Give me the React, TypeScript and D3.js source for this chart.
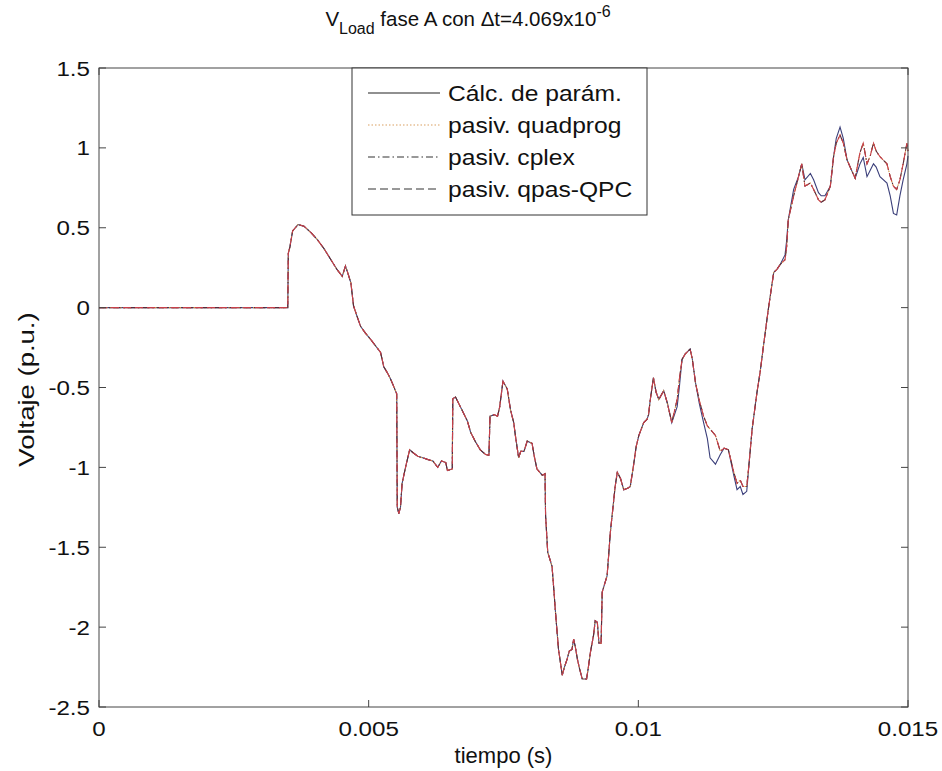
import React from 'react';
import * as d3 from 'd3';

const xTicks = [0, 0.005, 0.01, 0.015];
const xTickLabels = ['0', '0.005', '0.01', '0.015'];
const yTicks = [1.5, 1, 0.5, 0, -0.5, -1, -1.5, -2, -2.5];
const yTickLabels = ['1.5', '1', '0.5', '0', '-0.5', '-1', '-1.5', '-2', '-2.5'];
const seriesNames = ['Cálc. de parám.', 'pasiv. quadprog', 'pasiv. cplex', 'pasiv. qpas-QPC'];

const timeS = [
  0, 0.0035, 0.00351, 0.00354, 0.00359, 0.00369, 0.0038, 0.00393, 0.00405, 0.00417,
  0.0043, 0.00441, 0.00451, 0.00457, 0.00461, 0.00467, 0.00472, 0.00478, 0.00485, 0.00494,
  0.00504, 0.00513, 0.00522, 0.00528, 0.00535, 0.00541, 0.00546, 0.00552, 0.00553, 0.00556,
  0.00559, 0.00562, 0.00569, 0.00576, 0.00583, 0.00591, 0.006, 0.00609, 0.00619, 0.00628,
  0.00635, 0.00643, 0.00646, 0.00655, 0.00656, 0.00661, 0.0067, 0.00683, 0.00689, 0.00698,
  0.00707, 0.00717, 0.00723, 0.00725, 0.00733, 0.00739, 0.00743, 0.00749, 0.00757, 0.00763,
  0.00769, 0.00772, 0.00778, 0.00782, 0.00788, 0.00794, 0.00803, 0.00807, 0.00812, 0.00822,
  0.00827, 0.00828, 0.00832, 0.0084, 0.00843, 0.00846, 0.00852, 0.00859, 0.00863, 0.00868,
  0.00872, 0.00877, 0.0088, 0.00883, 0.00887, 0.00891, 0.00896, 0.00904, 0.00907, 0.00911,
  0.00917, 0.0092, 0.00924, 0.00927, 0.00931, 0.00933, 0.00942, 0.00945, 0.00948, 0.00953,
  0.00957, 0.00961, 0.00967, 0.00973, 0.0098, 0.00985, 0.00991, 0.00996, 0.01001, 0.0101,
  0.01016, 0.01019, 0.01022, 0.01028, 0.01033, 0.01038, 0.01047, 0.01054, 0.01062, 0.01072,
  0.01076, 0.01081, 0.01087, 0.01096, 0.011, 0.01106, 0.01113, 0.01121, 0.01128, 0.01133,
  0.01143, 0.01152, 0.01159, 0.01167, 0.01177, 0.01183, 0.01189, 0.01194, 0.01201, 0.01206,
  0.01211, 0.0122, 0.01226, 0.01232, 0.01241, 0.01251, 0.01257, 0.01263, 0.01272, 0.01275,
  0.01278, 0.01288, 0.01297, 0.01303, 0.01309, 0.01319, 0.01325, 0.01334, 0.01339, 0.01346,
  0.01356, 0.01362, 0.01367, 0.01374, 0.0138, 0.01387, 0.01394, 0.01402, 0.01407, 0.01411,
  0.01417, 0.01424, 0.0143, 0.01436, 0.01441, 0.01448, 0.01461, 0.01467, 0.01473, 0.01479,
  0.01485, 0.01491, 0.01498, 0.015,
];

const calcValues = [
  0, 0, 0.34, 0.38, 0.48, 0.52, 0.51, 0.47, 0.425, 0.37,
  0.30, 0.24, 0.196, 0.26, 0.22, 0.155, 0.01, -0.05, -0.117, -0.16,
  -0.20, -0.24, -0.28, -0.37, -0.41, -0.45, -0.49, -0.54, -1.25, -1.29,
  -1.25, -1.10, -0.99, -0.89, -0.91, -0.93, -0.94, -0.95, -0.96, -1.00,
  -0.96, -0.97, -1.02, -1.01, -0.57, -0.56, -0.62, -0.71, -0.78, -0.84,
  -0.89, -0.92, -0.925, -0.68, -0.67, -0.68, -0.62, -0.46, -0.51, -0.64,
  -0.72, -0.80, -0.94, -0.90, -0.90, -0.835, -0.85, -0.93, -1.01, -1.05,
  -1.04, -1.30, -1.53, -1.62, -1.75, -1.89, -2.14, -2.30, -2.25, -2.20,
  -2.15, -2.14, -2.075, -2.12, -2.20, -2.26, -2.325, -2.325, -2.26, -2.16,
  -2.05, -1.96, -1.97, -2.10, -2.10, -1.78, -1.68, -1.55, -1.41, -1.25,
  -1.12, -1.03, -1.07, -1.14, -1.13, -1.12, -0.99, -0.87, -0.80, -0.72,
  -0.70, -0.67, -0.58, -0.44, -0.53, -0.575, -0.52, -0.60, -0.72, -0.62,
  -0.50, -0.325, -0.29, -0.26, -0.32, -0.47, -0.60, -0.72, -0.82, -0.94,
  -0.98, -0.92, -0.88, -0.89, -1.05, -1.14, -1.12, -1.17, -1.15, -0.95,
  -0.76, -0.53, -0.40, -0.24, -0.01, 0.22, 0.24, 0.27, 0.33, 0.42,
  0.55, 0.74, 0.82, 0.90, 0.80, 0.84, 0.80, 0.72, 0.70, 0.70,
  0.76, 0.945, 1.06, 1.13, 1.06, 0.925, 0.87, 0.81, 0.86, 0.90,
  0.94, 0.82, 0.86, 0.90, 0.88, 0.82, 0.78, 0.70, 0.59, 0.58,
  0.70, 0.80, 0.90, 0.95,
];

const quadprogValues = [
  0, 0, 0.34, 0.38, 0.48, 0.52, 0.51, 0.47, 0.425, 0.37,
  0.30, 0.24, 0.196, 0.26, 0.22, 0.155, 0.01, -0.05, -0.117, -0.16,
  -0.20, -0.24, -0.28, -0.37, -0.41, -0.45, -0.49, -0.54, -1.25, -1.29,
  -1.25, -1.10, -0.99, -0.89, -0.91, -0.93, -0.94, -0.95, -0.96, -1.00,
  -0.96, -0.97, -1.02, -1.01, -0.57, -0.56, -0.62, -0.71, -0.78, -0.84,
  -0.89, -0.92, -0.925, -0.68, -0.67, -0.68, -0.62, -0.46, -0.51, -0.64,
  -0.72, -0.80, -0.94, -0.90, -0.90, -0.835, -0.85, -0.93, -1.01, -1.05,
  -1.04, -1.30, -1.53, -1.62, -1.75, -1.89, -2.14, -2.30, -2.25, -2.20,
  -2.15, -2.14, -2.075, -2.12, -2.20, -2.26, -2.325, -2.325, -2.26, -2.16,
  -2.05, -1.96, -1.97, -2.10, -2.10, -1.78, -1.68, -1.55, -1.41, -1.25,
  -1.12, -1.03, -1.07, -1.14, -1.13, -1.12, -0.99, -0.87, -0.80, -0.72,
  -0.70, -0.67, -0.58, -0.44, -0.53, -0.575, -0.52, -0.60, -0.72, -0.575,
  -0.45, -0.325, -0.29, -0.26, -0.32, -0.47, -0.58, -0.68, -0.74, -0.76,
  -0.80, -0.90, -0.88, -0.89, -1.03, -1.10, -1.08, -1.12, -1.12, -0.95,
  -0.76, -0.53, -0.40, -0.24, -0.01, 0.22, 0.24, 0.27, 0.30, 0.38,
  0.55, 0.70, 0.82, 0.90, 0.76, 0.78, 0.74, 0.675, 0.66, 0.675,
  0.76, 0.945, 1.03, 1.08, 1.03, 0.925, 0.87, 0.81, 0.90, 0.97,
  1.03, 0.90, 0.95, 1.03, 0.98, 0.945, 0.90, 0.82, 0.76, 0.74,
  0.80, 0.90, 1.03, 0.98,
];

// cplex and qpas-QPC solutions coincide with quadprog at this resolution
const cplexValues = quadprogValues;
const qpasValues = quadprogValues;

const W = 942;
const H = 771;
const M = { left: 99, right: 908, top: 68, bottom: 707 };
const FONT = '"Liberation Sans", Arial, sans-serif';

const styles = [
  { color: '#3b3f7a', dash: undefined as string | undefined, legendColor: '#222' },
  { color: '#d9963f', dash: '1.5,2', legendColor: '#d9a060' },
  { color: '#5a2a3a', dash: '7,3,1.5,3', legendColor: '#333' },
  { color: '#c8404a', dash: '8,4', legendColor: '#333' },
];

export default function App() {
  const x = d3.scaleLinear().domain([0, 0.015]).range([M.left, M.right]);
  const y = d3.scaleLinear().domain([-2.5, 1.5]).range([M.bottom, M.top]);
  const valueSets = [calcValues, quadprogValues, cplexValues, qpasValues];
  const line = d3
    .line<number>()
    .x((_, i) => x(timeS[i]))
    .y((d) => y(d));
  const tick = 7;
  const axisColor = '#444';
  const sx = 1.15;

  const legend = { x: 352, y: 68, w: 295, h: 147, rows: [93, 125, 157, 189] };

  return (
    <svg width={W} height={H} style={{ display: 'block', position: 'absolute', left: 0, top: 0, background: '#fff' }}>
      <rect x={0} y={0} width={W} height={H} fill="#fff" />
      {/* curves */}
      <g fill="none" strokeWidth={1.1}>
        {valueSets.map((vals, k) => (
          <path
            key={k}
            d={line(vals) || ''}
            stroke={styles[k].color}
            strokeDasharray={styles[k].dash}
          />
        ))}
      </g>
      {/* box */}
      <rect
        x={M.left}
        y={M.top}
        width={M.right - M.left}
        height={M.bottom - M.top}
        fill="none"
        stroke={axisColor}
        strokeWidth={1}
      />
      {/* ticks */}
      <g stroke={axisColor} strokeWidth={1}>
        {xTicks.map((t, i) => (
          <g key={'xt' + i}>
            <line x1={x(t)} x2={x(t)} y1={M.bottom} y2={M.bottom - tick} />
            <line x1={x(t)} x2={x(t)} y1={M.top} y2={M.top + tick} />
          </g>
        ))}
        {yTicks.map((t, i) => (
          <g key={'yt' + i}>
            <line x1={M.left} x2={M.left + tick} y1={y(t)} y2={y(t)} />
            <line x1={M.right} x2={M.right - tick} y1={y(t)} y2={y(t)} />
          </g>
        ))}
      </g>
      {/* tick labels */}
      <g fontFamily={FONT} fontSize={21} fill="#111">
        {xTicks.map((t, i) => (
          <text
            key={'xl' + i}
            transform={`translate(${x(t)},${M.bottom + 29}) scale(${sx},1)`}
            textAnchor="middle"
          >
            {xTickLabels[i]}
          </text>
        ))}
        {yTicks.map((t, i) => (
          <text
            key={'yl' + i}
            transform={`translate(${M.left - 9},${y(t) + 7.5}) scale(${sx},1)`}
            textAnchor="end"
          >
            {yTickLabels[i]}
          </text>
        ))}
      </g>
      {/* axis labels */}
      <text x={(M.left + M.right) / 2} y={763} textAnchor="middle" fontFamily={FONT} fontSize={22} fill="#111">
        tiempo (s)
      </text>
      <text
        transform={`translate(34, ${(M.top + M.bottom) / 2 + 2}) rotate(-90) scale(1.25,1)`}
        textAnchor="middle"
        fontFamily={FONT}
        fontSize={22}
        fill="#111"
      >
        Voltaje (p.u.)
      </text>
      {/* title */}
      <text x={468} y={26} textAnchor="middle" fontFamily={FONT} fontSize={20.5} fill="#111">
        <tspan>V</tspan>
        <tspan dy={8} fontSize={16}>Load</tspan>
        <tspan dy={-8}> fase A con Δt=4.069x10</tspan>
        <tspan dy={-9} fontSize={16}>-6</tspan>
      </text>
      {/* legend */}
      <rect x={legend.x} y={legend.y} width={legend.w} height={legend.h} fill="#fff" stroke="#333" strokeWidth={1} />
      {seriesNames.map((name, k) => (
        <g key={'lg' + k}>
          <line
            x1={legend.x + 16}
            x2={legend.x + 88}
            y1={legend.rows[k]}
            y2={legend.rows[k]}
            stroke={styles[k].legendColor}
            strokeWidth={1.1}
            strokeDasharray={styles[k].dash}
          />
          <text
            transform={`translate(${legend.x + 96},${legend.rows[k] + 8}) scale(1.12,1)`}
            fontFamily={FONT}
            fontSize={22}
            fill="#111"
          >
            {name}
          </text>
        </g>
      ))}
    </svg>
  );
}
